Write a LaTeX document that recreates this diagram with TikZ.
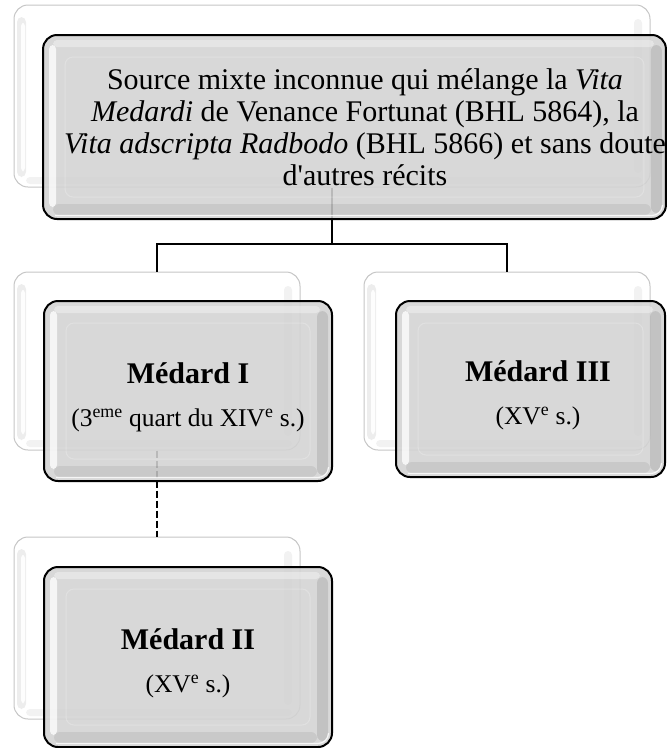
\documentclass[tikz,border=0pt]{standalone}
\usepackage{fontspec}
\setmainfont{Liberation Serif}[Ligatures=TeXOff]
\definecolor{facegray}{HTML}{D3D3D3}
\definecolor{backline}{HTML}{C6C6C6}
\tikzset{
  backbox/.style={draw=backline, line width=1pt, fill=white, rounded corners=14pt, inner sep=0pt,
    path picture={
      \fill[black, opacity=0.07, rounded corners=5pt]
        ([shift={(3pt,-12pt)}]path picture bounding box.north west) rectangle
        ([shift={(12pt,10pt)}]path picture bounding box.south west);
      \fill[white, opacity=0.9, rounded corners=3pt]
        ([shift={(7pt,-18pt)}]path picture bounding box.north west) rectangle
        ([shift={(11pt,16pt)}]path picture bounding box.south west);
      \fill[black, opacity=0.05, rounded corners=4pt]
        ([shift={(-16pt,-14pt)}]path picture bounding box.north east) rectangle
        ([shift={(-8pt,14pt)}]path picture bounding box.south east);
      \fill[black, opacity=0.05, rounded corners=4pt]
        ([shift={(12pt,10pt)}]path picture bounding box.south west) rectangle
        ([shift={(-8pt,3pt)}]path picture bounding box.south east);
    }},
  frontbox/.style={draw=black, line width=2pt, fill=facegray, fill opacity=0.88, text opacity=1,
    rounded corners=14pt, inner sep=0pt, align=center,
    path picture={
      \fill[black, opacity=0.10, rounded corners=6pt]
        ([shift={(-15pt,-10pt)}]path picture bounding box.north east) rectangle
        ([shift={(-4pt,6pt)}]path picture bounding box.south east);
      \fill[black, opacity=0.07, rounded corners=6pt]
        ([shift={(10pt,15pt)}]path picture bounding box.south west) rectangle
        ([shift={(-15pt,4pt)}]path picture bounding box.south east);
      \fill[white, opacity=0.75, rounded corners=4pt]
        ([shift={(6pt,-10pt)}]path picture bounding box.north west) rectangle
        ([shift={(13pt,12pt)}]path picture bounding box.south west);
      \fill[white, opacity=0.35, rounded corners=4pt]
        ([shift={(10pt,-5pt)}]path picture bounding box.north west) rectangle
        ([shift={(-12pt,-12pt)}]path picture bounding box.north east);
      \draw[white, opacity=0.22, line width=1pt, rounded corners=8pt]
        ([shift={(22pt,-22pt)}]path picture bounding box.north west) rectangle
        ([shift={(-22pt,22pt)}]path picture bounding box.south east);
      \draw[white, opacity=0.8, line width=1.2pt, rounded corners=10pt]
        ([shift={(12pt,3.5pt)}]path picture bounding box.south west) --
        ([shift={(-4pt,3.5pt)}]path picture bounding box.south east) --
        ([shift={(-3.5pt,14pt)}]path picture bounding box.south east);
    }},
  conn/.style={draw=black, line width=2.4pt},
  dconn/.style={draw=black, line width=2.4pt, dash pattern=on 7pt off 3pt},
  toptext/.style={font=\fontsize{30}{32}\selectfont},
  subtext/.style={font=\fontsize{25.5}{30}\selectfont},
}
\newcommand{\ttl}[1]{{\fontsize{30}{36}\selectfont\bfseries\rule{0pt}{33pt}#1}}
\begin{document}
\begin{tikzpicture}[x=1pt, y=-1pt]
\useasboundingbox (0,0) rectangle (667,748);
% back boxes
\node[backbox, minimum width=636pt, minimum height=182pt] (tb) at (332,96) {};
\node[backbox, minimum width=286pt, minimum height=178pt] (m1b) at (157,361) {};
\node[backbox, minimum width=286pt, minimum height=178pt] (m3b) at (507,361) {};
\node[backbox, minimum width=286pt, minimum height=182pt] (m2b) at (157,628) {};
% connectors
\coordinate (j) at (332,244);
\draw[conn] (tb.south) -- (j);
\draw[conn] (m1b.north) |- (j) -| (m3b.north);
\draw[dconn] (m1b.south) -- (m2b.north);
% front boxes
\node[frontbox, toptext, minimum width=621pt, minimum height=184pt] (tf) at (354.5,127)
  {\hspace*{21pt}Source mixte inconnue qui mélange la \textit{Vita}\\
   \hspace*{21pt}\textit{Medardi} de Venance Fortunat (BHL 5864), la\\
   \hspace*{21pt}\textit{Vita adscripta Radbodo} (BHL 5866) et sans doute\\
   \hspace*{21pt}d'autres récits};
\node[frontbox, subtext, minimum width=288pt, minimum height=180pt] (m1f) at (188,391)
  {\ttl{Médard I}\\[13pt]
   (3\textsuperscript{eme} quart du XIV\textsuperscript{e} s.)};
\node[frontbox, subtext, minimum width=269pt, minimum height=176pt] (m3f) at (530.5,389)
  {\hspace*{15pt}\ttl{Médard III}\\[13pt]
   \hspace*{15pt}(XV\textsuperscript{e} s.)};
\node[frontbox, subtext, minimum width=288pt, minimum height=180pt] (m2f) at (188,657)
  {\ttl{Médard II}\\[13pt]
   (XV\textsuperscript{e} s.)};
\end{tikzpicture}
\end{document}
